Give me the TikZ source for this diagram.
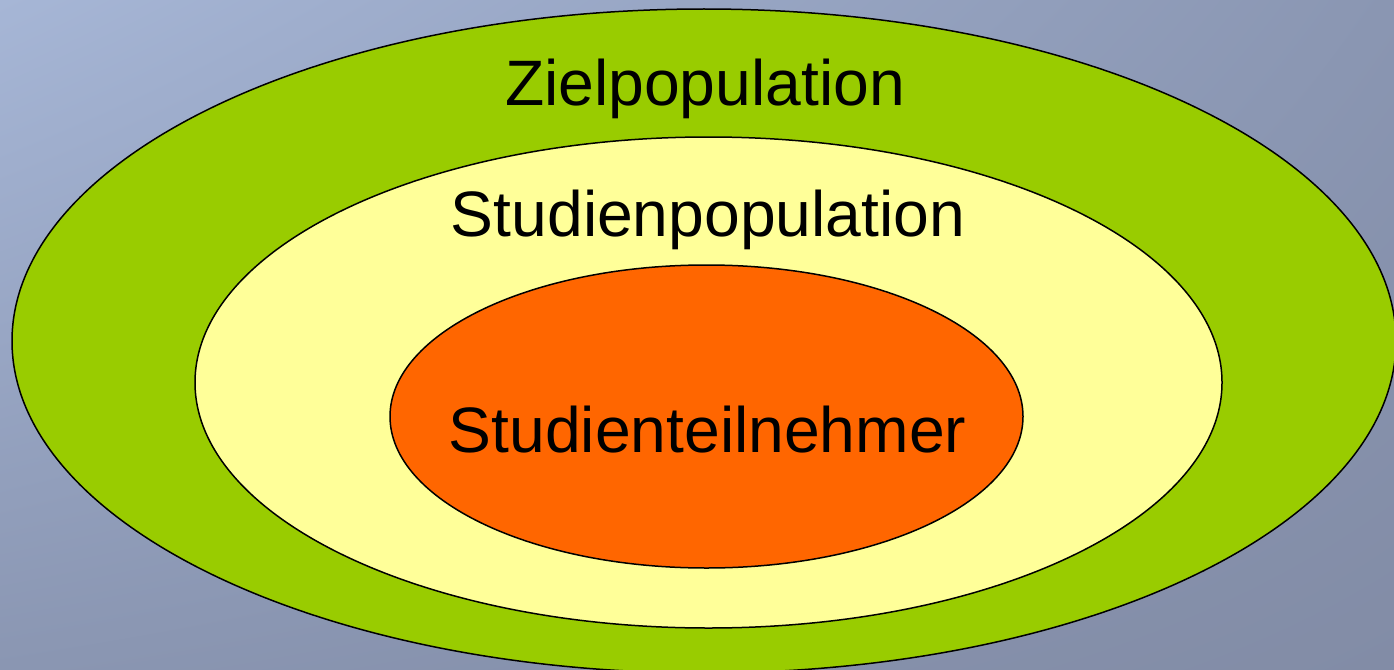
\documentclass[tikz,border=0pt]{standalone}
\usepackage{fontspec}
\setmainfont{Liberation Sans}
\usetikzlibrary{shapes.geometric,shadings}
\definecolor{bgA}{RGB}{166,182,214}
\definecolor{bgB}{RGB}{138,150,178}
\definecolor{bgC}{RGB}{130,140,166}
\definecolor{zgreen}{RGB}{153,204,0}
\definecolor{zyellow}{RGB}{255,255,153}
\definecolor{zorange}{RGB}{255,102,0}
\tikzset{
  ring/.style={ellipse, draw=black, line width=1.5pt, inner sep=0pt},
  lbl/.style={font=\fontsize{64.2}{70}\selectfont, text=black, inner sep=0pt, anchor=base}
}
\begin{document}
\begin{tikzpicture}[x=1pt,y=-1pt]
\useasboundingbox (0,0) rectangle (1394,669);
\clip (0,0) rectangle (1394,669);
\shade[upper left=bgA, upper right=bgB, lower left=bgB, lower right=bgC] (0,0) rectangle (1394,669);
\node[ring, fill=zgreen, minimum width=1384pt, minimum height=664pt] (outer) at (704,341) {};
\node[ring, fill=zyellow, minimum width=1027pt, minimum height=491pt] (middle) at (708.5,382.5) {};
\node[ring, fill=zorange, minimum width=633pt, minimum height=303pt] (inner) at (706.5,416.5) {};
\node[lbl] (t1) at (705,105) {Zielpopulation};
\node[lbl] (t2) at (708,236) {Studienpopulation};
\node[lbl] (t3) at (707.5,452) {Studienteilnehmer};
\end{tikzpicture}
\end{document}
